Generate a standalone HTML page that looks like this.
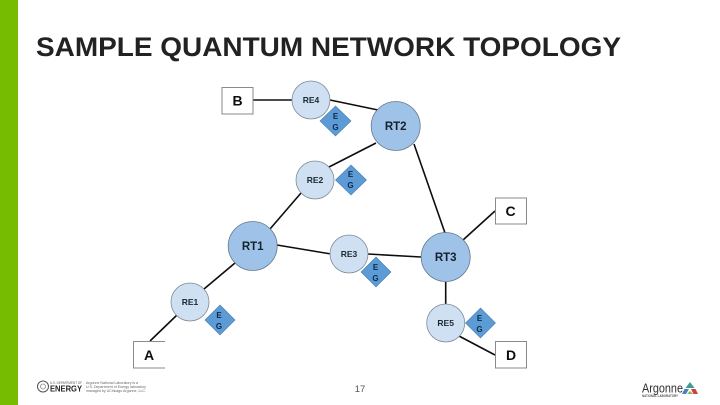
<!DOCTYPE html>
<html><head><meta charset="utf-8"><style>
html,body{margin:0;padding:0;background:#fff}
svg{display:block}
text{font-family:"Liberation Sans",sans-serif}
</style></head><body>
<svg width="720" height="405" viewBox="0 0 720 405" xmlns="http://www.w3.org/2000/svg">
<defs><filter id="b" x="-2%" y="-2%" width="104%" height="104%"><feGaussianBlur stdDeviation="0.35"/></filter></defs>
<rect width="720" height="405" fill="#fff"/>
<rect x="0" y="0" width="18" height="405" fill="#76bc00"/>
<g filter="url(#b)">
<text x="36" y="56" font-size="27" font-weight="700" fill="#222" textLength="585" lengthAdjust="spacingAndGlyphs">SAMPLE QUANTUM NETWORK TOPOLOGY</text>

<g stroke="#111" stroke-width="1.6" fill="none">
<line x1="253" y1="100" x2="292" y2="100"/>
<line x1="330" y1="100" x2="378" y2="110"/>
<line x1="376" y1="143" x2="329" y2="167"/>
<line x1="414" y1="144" x2="445" y2="233"/>
<line x1="301" y1="193" x2="270" y2="229"/>
<line x1="277" y1="245" x2="331" y2="254"/>
<line x1="368" y1="254" x2="421" y2="257"/>
<line x1="463" y1="240" x2="495" y2="211"/>
<line x1="445.7" y1="282" x2="445.7" y2="304"/>
<line x1="459" y1="336" x2="495" y2="355"/>
<line x1="235" y1="263" x2="204" y2="289"/>
<line x1="177" y1="315" x2="150" y2="341"/>
</g>

<g fill="#cfe0f3" stroke="#7e8b99" stroke-width="0.8">
<circle cx="311" cy="100" r="19"/>
<circle cx="315" cy="180" r="19"/>
<circle cx="349" cy="254" r="19"/>
<circle cx="190" cy="302" r="19"/>
<circle cx="445.7" cy="323" r="19"/>
</g>
<g fill="#9fc3e8" stroke="#66788c" stroke-width="0.8">
<circle cx="395.7" cy="126" r="24.5"/>
<circle cx="252.7" cy="246" r="24.5"/>
<circle cx="445.7" cy="257" r="24.5"/>
</g>
<g fill="#5b9bd5" stroke="#4a7fb0" stroke-width="0.6">
<polygon points="335.5,106 351,121 335.5,136 320,121"/>
<polygon points="351,165 366.500,180 351,195 335.500,180"/>
<polygon points="376,257 391,272 376,287 361,272"/>
<polygon points="220,305 235,320 220,335 205,320"/>
<polygon points="480.500,308 495.500,323 480.500,338 465.500,323"/>
</g>

<g fill="#fff" stroke="#8a8a8a" stroke-width="1">
<rect x="222" y="87.500" width="31" height="26.500"/>
<rect x="495.500" y="198" width="31" height="26"/>
<rect x="495.500" y="341.500" width="31" height="26.500"/>
</g>
<path d="M165 341.500H133.500V368H165" fill="#fff" stroke="#8a8a8a" stroke-width="1"/>

<g font-weight="700" font-size="14" fill="#111" text-anchor="middle">
<text x="237.500" y="105.500">B</text>
<text x="510.500" y="216">C</text>
<text x="511" y="360">D</text>
<text x="149" y="360">A</text>
</g>
<g font-weight="700" font-size="8.500" fill="#1f2a36" text-anchor="middle">
<text x="311" y="103">RE4</text>
<text x="315" y="183">RE2</text>
<text x="349" y="257">RE3</text>
<text x="190" y="305">RE1</text>
<text x="445.700" y="326">RE5</text>
</g>
<g font-weight="700" font-size="11.500" fill="#14202c" text-anchor="middle">
<text x="395.700" y="130">RT2</text>
<text x="252.700" y="250">RT1</text>
<text x="445.700" y="261">RT3</text>
</g>
<g font-weight="700" font-size="8" fill="#0f2a45" text-anchor="middle">
<text x="335.500" y="119">E</text><text x="335.500" y="130">G</text>
<text x="350.500" y="177">E</text><text x="350.500" y="188">G</text>
<text x="375.500" y="270">E</text><text x="375.500" y="281">G</text>
<text x="219" y="318">E</text><text x="219" y="329">G</text>
<text x="479.500" y="321">E</text><text x="479.500" y="332">G</text>
</g>

<text x="360" y="392" font-size="9.500" fill="#555" text-anchor="middle">17</text>

<circle cx="43" cy="386.500" r="5.500" fill="#fff" stroke="#555" stroke-width="1"/>
<circle cx="43" cy="386.500" r="2.500" fill="none" stroke="#888" stroke-width="0.8"/>
<text x="50" y="391.500" font-size="8.500" font-weight="700" fill="#222" textLength="32" lengthAdjust="spacingAndGlyphs">ENERGY</text>
<text x="50" y="384" font-size="3.500" fill="#555" textLength="32" lengthAdjust="spacingAndGlyphs">U.S. DEPARTMENT OF</text>
<g font-size="3.600" fill="#666">
<text x="86" y="384" textLength="52" lengthAdjust="spacingAndGlyphs">Argonne National Laboratory is a</text>
<text x="86" y="388" textLength="60" lengthAdjust="spacingAndGlyphs">U.S. Department of Energy laboratory</text>
<text x="86" y="392" textLength="60" lengthAdjust="spacingAndGlyphs">managed by UChicago Argonne, LLC.</text>
</g>

<text x="642" y="392.500" font-size="13" fill="#333" textLength="41" lengthAdjust="spacingAndGlyphs">Argonne</text>
<text x="660" y="397" font-size="3.500" font-weight="700" fill="#555" text-anchor="middle" textLength="36" lengthAdjust="spacingAndGlyphs">NATIONAL LABORATORY</text>
<polygon points="690,382 694.500,388 685.500,388" fill="#3f9c8f"/>
<polygon points="684.500,389 689,389 686,394 682,394" fill="#4a7fc0"/>
<polygon points="691,389 695.500,389 698,394 693.500,394" fill="#c9423a"/>
<polygon points="687,394 693,394 690,391" fill="#8ab84a"/>
</g>
</svg>
</body></html>
